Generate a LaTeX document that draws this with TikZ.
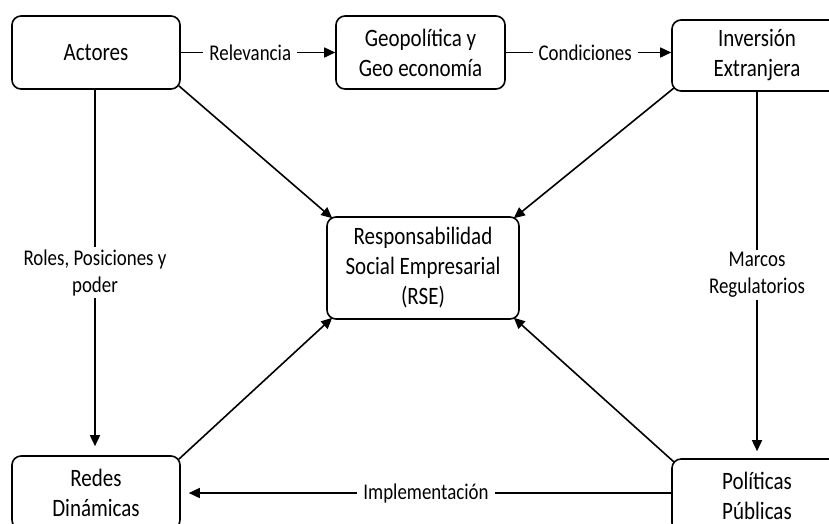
\documentclass[tikz,border=0pt]{standalone}
\usepackage{fontspec}
\setmainfont[FakeStretch=0.84]{Carlito}
\usetikzlibrary{arrows.meta}
\begin{document}
\begin{tikzpicture}[x=1pt,y=-1pt,
 box/.style={draw, line width=1.6pt, rounded corners=9pt, align=center, inner sep=0pt, font=\fontsize{25}{30}\selectfont},
 lbl/.style={fill=white, align=center, inner xsep=6pt, inner ysep=2pt, font=\fontsize{22.5}{27}\selectfont},
 arr/.style={line width=1.6pt, -{Triangle[length=11pt,width=10pt]}}]
\clip (0,0) rectangle (829,523);
\fill[white] (0,0) rectangle (829,523);
\node[box, minimum width=168pt, minimum height=73pt] (act) at (96,52.5) {Actores};
\node[box, minimum width=169pt, minimum height=73pt] (geo) at (420.5,52.5) {Geopolítica y\\Geo economía};
\node[box, minimum width=170pt, minimum height=71pt] (inv) at (757,55.5) {Inversión\\Extranjera};
\node[box, minimum width=192pt, minimum height=102pt] (rse) at (423,268) {Responsabilidad\\Social Empresarial\\(RSE)};
\node[box, minimum width=168pt, minimum height=73pt] (red) at (96,492.5) {Redes\\Dinámicas};
\node[box, minimum width=170pt, minimum height=73pt] (pol) at (757,495.5) {Políticas\\Públicas};

\draw[arr] (act.east) -- node[lbl, pos=0.45]{Relevancia} (geo.west);
\draw[arr] (geo.east) -- node[lbl, pos=0.48]{Condiciones} (geo.east -| inv.west);
\draw[arr, shorten >=9pt] (act.south -| 95,0) -- node[lbl]{Roles, Posiciones y\\poder} (red.north -| 95,0);
\draw[arr, shorten >=7pt] (inv.south) -- node[lbl]{Marcos\\Regulatorios} (pol.north);
\draw[arr, shorten >=8pt] (pol.west |- 0,493) -- node[lbl]{Implementación} (red.east |- 0,493);
\draw[arr] ([shift={(-2,-4)}]act.south east) -- ([shift={(6,2)}]rse.north west);
\draw[arr] ([shift={(3,-4)}]inv.south west) -- ([shift={(-6,2)}]rse.north east);
\draw[arr] ([shift={(-2,4)}]red.north east) -- ([shift={(6,-2)}]rse.south west);
\draw[arr] ([shift={(3,4)}]pol.north west) -- ([shift={(-6,-2)}]rse.south east);
\end{tikzpicture}
\end{document}
